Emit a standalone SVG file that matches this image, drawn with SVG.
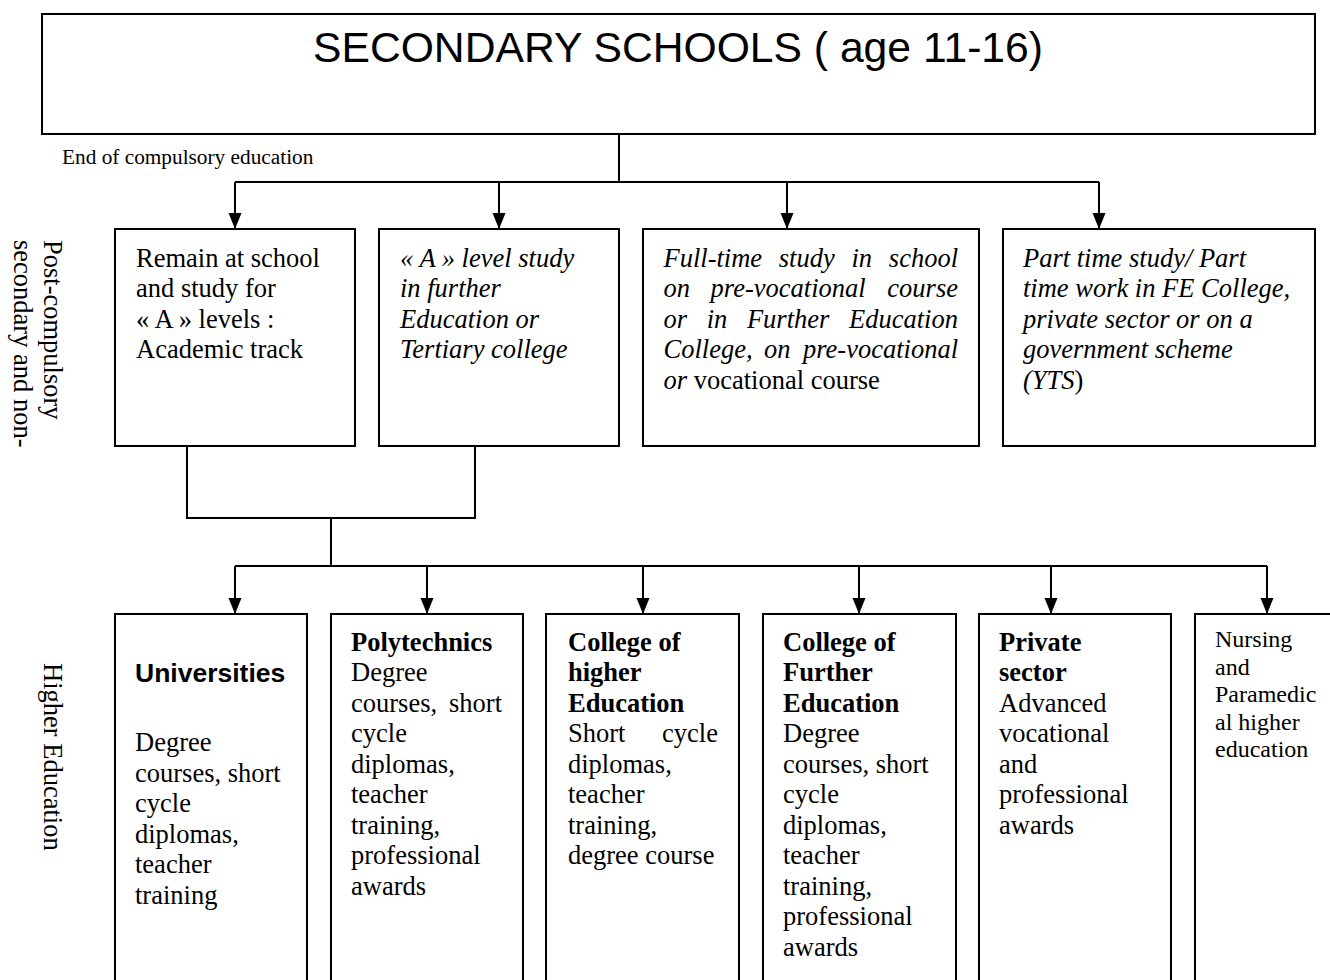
<svg xmlns="http://www.w3.org/2000/svg" width="1330" height="980" viewBox="0 0 1330 980">
<style>
.box{fill:none;stroke:#000;stroke-width:2}
.conn{fill:none;stroke:#000;stroke-width:2}
.t{font-family:"Liberation Serif","Times New Roman",serif;font-size:26.5px;fill:#000}
.i{font-style:italic}
.b{font-weight:bold}
.sm{font-size:21.3px}
.nu{font-size:24px}
.ar{font-family:"Liberation Sans",Arial,sans-serif;fill:#000}
</style>
<defs>
<marker id="arr" markerUnits="userSpaceOnUse" markerWidth="16" markerHeight="14" refX="16" refY="7" orient="auto">
<path d="M0,0.5 L16,7 L0,13.5 z" fill="#000"/>
</marker>
</defs>
<rect width="1330" height="980" fill="#fff"/>

<g id="connectors">
<path class="conn" d="M619,134 V182 M235,182 H1099"/>
<path class="conn" d="M235,182 V229" marker-end="url(#arr)"/>
<path class="conn" d="M499,182 V229" marker-end="url(#arr)"/>
<path class="conn" d="M787,182 V229" marker-end="url(#arr)"/>
<path class="conn" d="M1099,182 V229" marker-end="url(#arr)"/>
<path class="conn" d="M187,446 V518 H475 V446 M331,518 V566 M235,566 H1267"/>
<path class="conn" d="M235,566 V614" marker-end="url(#arr)"/>
<path class="conn" d="M427,566 V614" marker-end="url(#arr)"/>
<path class="conn" d="M643,566 V614" marker-end="url(#arr)"/>
<path class="conn" d="M859,566 V614" marker-end="url(#arr)"/>
<path class="conn" d="M1051,566 V614" marker-end="url(#arr)"/>
<path class="conn" d="M1267,566 V614" marker-end="url(#arr)"/>
</g>

<g id="secondary-schools">
<rect class="box" x="42" y="14" width="1273" height="120"/>
<text class="ar" x="678" y="62" font-size="42" text-anchor="middle" textLength="730" lengthAdjust="spacingAndGlyphs">SECONDARY SCHOOLS ( age 11-16)</text>
</g>

<g id="end-label">
<text class="t sm" x="62" y="163.5">End of compulsory education</text>
</g>

<g id="side-post">
<text class="t" transform="translate(44,240) rotate(90)"><tspan x="0" y="0">Post-compulsory</tspan><tspan x="0" y="30.5">secondary and non-</tspan></text>
</g>
<g id="side-higher">
<text class="t" transform="translate(44,663) rotate(90)">Higher Education</text>
</g>

<g id="remain-school">
<rect class="box" x="115" y="229" width="240" height="217"/>
<text class="t"><tspan x="136" y="266.5">Remain at school</tspan><tspan x="136" y="297">and study for</tspan><tspan x="136" y="327.5">« A » levels :</tspan><tspan x="136" y="358">Academic track</tspan></text>
</g>

<g id="a-level-fe">
<rect class="box" x="379" y="229" width="240" height="217"/>
<text class="t i"><tspan x="400" y="266.5">« A » level study</tspan><tspan x="400" y="297">in further</tspan><tspan x="400" y="327.5">Education or</tspan><tspan x="400" y="358">Tertiary college</tspan></text>
</g>

<g id="full-time">
<rect class="box" x="643" y="229" width="336" height="217"/>
<text class="t i">
<tspan x="663.5" y="266.5">Full-time</tspan><tspan x="778.8" y="266.5">study</tspan><tspan x="851.4" y="266.5">in</tspan>
<tspan x="663.5" y="297">on</tspan><tspan x="710.6" y="297">pre-vocational</tspan>
<tspan x="663.5" y="327.5">or</tspan><tspan x="706.7" y="327.5">in</tspan><tspan x="746.9" y="327.5">Further</tspan>
<tspan x="663.5" y="358">College,</tspan><tspan x="764" y="358">on</tspan>
<tspan x="663.5" y="388.5">or</tspan><tspan font-style="normal"> vocational course</tspan>
</text>
<text class="t i" text-anchor="end"><tspan x="958" y="266.5">school</tspan><tspan x="958" y="297">course</tspan><tspan x="958" y="327.5">Education</tspan><tspan x="958" y="358">pre-vocational</tspan></text>
</g>

<g id="part-time">
<rect class="box" x="1003" y="229" width="312" height="217"/>
<text class="t i"><tspan x="1023" y="266.5">Part time study/ Part</tspan><tspan x="1023" y="297">time work in FE College,</tspan><tspan x="1023" y="327.5">private sector or on a</tspan><tspan x="1023" y="358">government scheme</tspan><tspan x="1023" y="388.5">(YTS</tspan><tspan font-style="normal">)</tspan></text>
</g>

<g id="universities">
<path class="box" d="M115,990 V614 H307 V990"/>
<text class="ar b" x="135" y="681.5" font-size="26.5">Universities</text>
<text class="t"><tspan x="135" y="751">Degree</tspan><tspan x="135" y="781.5">courses, short</tspan><tspan x="135" y="812">cycle</tspan><tspan x="135" y="842.5">diplomas,</tspan><tspan x="135" y="873">teacher</tspan><tspan x="135" y="903.5">training</tspan></text>
</g>

<g id="polytechnics">
<path class="box" d="M331,990 V614 H523 V990"/>
<text class="t"><tspan x="351" y="651" font-weight="bold">Polytechnics</tspan><tspan x="351" y="681">Degree</tspan><tspan x="351" y="711.5">courses,</tspan><tspan x="351" y="742">cycle</tspan><tspan x="351" y="772.5">diplomas,</tspan><tspan x="351" y="803">teacher</tspan><tspan x="351" y="833.5">training,</tspan><tspan x="351" y="864">professional</tspan><tspan x="351" y="894.5">awards</tspan></text>
<text class="t" x="502" y="711.5" text-anchor="end">short</text>
</g>

<g id="college-higher">
<path class="box" d="M546,990 V614 H739 V990"/>
<text class="t"><tspan x="568" y="651" font-weight="bold">College of</tspan><tspan x="568" y="681" font-weight="bold">higher</tspan><tspan x="568" y="711.5" font-weight="bold">Education</tspan><tspan x="568" y="742">Short</tspan><tspan x="568" y="772.5">diplomas,</tspan><tspan x="568" y="803">teacher</tspan><tspan x="568" y="833.5">training,</tspan><tspan x="568" y="864">degree course</tspan></text>
<text class="t" x="718" y="742" text-anchor="end">cycle</text>
</g>

<g id="college-further">
<path class="box" d="M763,990 V614 H956 V990"/>
<text class="t"><tspan x="783" y="651" font-weight="bold">College of</tspan><tspan x="783" y="681" font-weight="bold">Further</tspan><tspan x="783" y="711.5" font-weight="bold">Education</tspan><tspan x="783" y="742">Degree</tspan><tspan x="783" y="772.5">courses, short</tspan><tspan x="783" y="803">cycle</tspan><tspan x="783" y="833.5">diplomas,</tspan><tspan x="783" y="864">teacher</tspan><tspan x="783" y="894.5">training,</tspan><tspan x="783" y="925">professional</tspan><tspan x="783" y="955.5">awards</tspan></text>
</g>

<g id="private-sector">
<path class="box" d="M979,990 V614 H1171 V990"/>
<text class="t"><tspan x="999" y="651" font-weight="bold">Private</tspan><tspan x="999" y="681" font-weight="bold">sector</tspan><tspan x="999" y="711.5">Advanced</tspan><tspan x="999" y="742">vocational</tspan><tspan x="999" y="772.5">and</tspan><tspan x="999" y="803">professional</tspan><tspan x="999" y="833.5">awards</tspan></text>
</g>

<g id="nursing">
<path class="box" d="M1195,990 V614 H1340"/>
<text class="t nu"><tspan x="1215" y="647">Nursing</tspan><tspan x="1215" y="674.6">and</tspan><tspan x="1215" y="702.2">Paramedic</tspan><tspan x="1215" y="729.8">al higher</tspan><tspan x="1215" y="757.4">education</tspan></text>
</g>
</svg>
